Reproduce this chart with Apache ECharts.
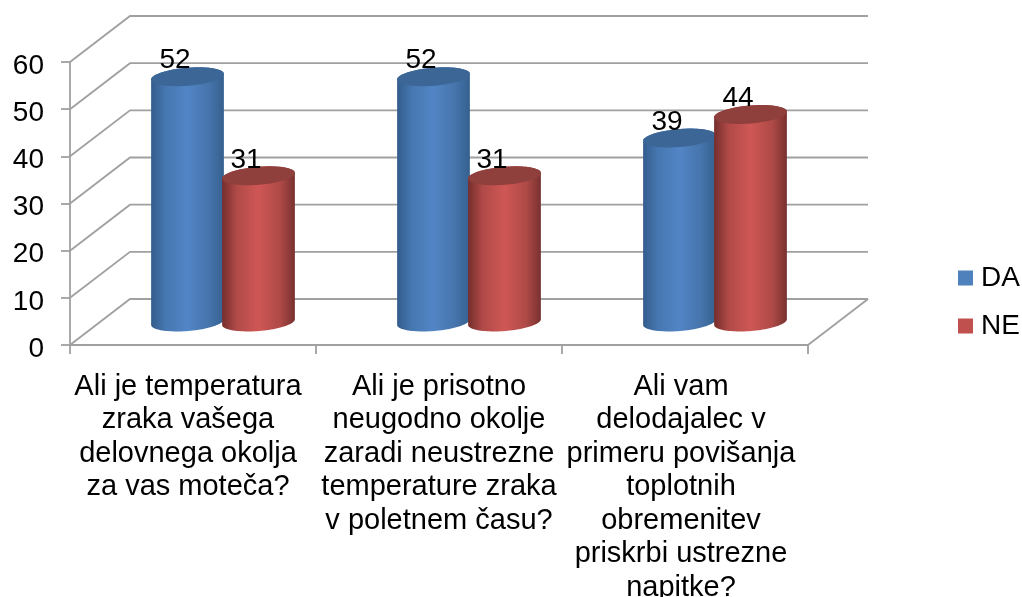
<!DOCTYPE html>
<html>
<head>
<meta charset="utf-8">
<style>html,body{margin:0;padding:0;background:#fff}#c{width:1022px;height:597px}</style>
<script src="https://cdn.jsdelivr.net/npm/echarts@6/dist/echarts.min.js"></script>
</head>
<body>
<div id="c"></div>
<script>
const categories = [
  'Ali je temperatura\nzraka vašega\ndelovnega okolja\nza vas moteča?',
  'Ali je prisotno\nneugodno okolje\nzaradi neustrezne\ntemperature zraka\nv poletnem času?',
  'Ali vam\ndelodajalec v\nprimeru povišanja\ntoplotnih\nobremenitev\npriskrbi ustrezne\nnapitke?'
];
const daValues = [52, 52, 39];
const neValues = [31, 31, 44];
const tickValues = [0, 10, 20, 30, 40, 50, 60];

const FONT = '"Liberation Sans", Arial, sans-serif';
const DEPTH_X = 60, DEPTH_Y = 46;
const GRID_COLOR = '#a0a0a0';
const GRID_WIDTH = 1.8;
const FONT_SIZE = 28;
const labelRightPadding = [10, 0, 8];

function ellipse(cx, cy, from, to) {
  const a = 36.5, b = 9, phi = 0.082, n = 48, pts = [];
  for (let i = 0; i <= n; i++) {
    const t = from + (to - from) * i / n;
    pts.push([
      cx + a * Math.cos(t) * Math.cos(phi) + b * Math.sin(t) * Math.sin(phi),
      cy - a * Math.cos(t) * Math.sin(phi) + b * Math.sin(t) * Math.cos(phi)
    ]);
  }
  return pts;
}

function cylinderSeries(name, values, shiftSign, base, stops, capColor) {
  return {
    type: 'custom',
    name: name,
    z: 3,
    silent: true,
    itemStyle: { color: base },
    encode: { x: 0, y: 1 },
    data: values.map((v, i) => [i, v]),
    renderItem: function (params, api) {
      const band = api.size([1, 0])[0];
      const top = api.coord([api.value(0), api.value(1)]);
      const bot = api.coord([api.value(0), 0]);
      const cx = top[0] + DEPTH_X / 2 + shiftSign * band * 0.1443;
      const yTop = top[1] - DEPTH_Y / 2;
      const yBot = bot[1] - DEPTH_Y / 2;
      const body = ellipse(cx, yBot, 0, Math.PI).concat(ellipse(cx, yTop, Math.PI, 2 * Math.PI));
      return {
        type: 'group',
        children: [
          {
            type: 'polygon',
            shape: { points: body },
            style: {
              fill: {
                type: 'linear', x: 0, y: 0, x2: 1, y2: 0,
                colorStops: [0, 0.2, 0.5, 0.8, 1].map((o, k) => ({ offset: o, color: stops[k] }))
              }
            }
          },
          {
            type: 'polygon',
            shape: { points: ellipse(cx, yTop, 0, 2 * Math.PI) },
            style: { fill: capColor }
          },
          {
            type: 'text',
            style: {
              text: String(api.value(1)),
              x: cx - 12.5,
              y: yTop - 16,
              align: 'center',
              verticalAlign: 'middle',
              fill: '#000',
              font: FONT_SIZE + 'px ' + FONT
            }
          }
        ]
      };
    }
  };
}

const wallSeries = {
  type: 'custom',
  z: 1,
  silent: true,
  encode: { y: 1 },
  data: tickValues.map(v => [0, v]),
  renderItem: function (params, api) {
    const rect = params.coordSys;
    const v = api.value(1);
    const y = api.coord([0, v])[1];
    const x0 = rect.x, x1 = rect.x + rect.width;
    const style = { stroke: GRID_COLOR, lineWidth: GRID_WIDTH, fill: 'none' };
    const children = [{
      type: 'polyline',
      shape: { points: [[x0, y], [x0 + DEPTH_X, y - DEPTH_Y], [x1 + DEPTH_X, y - DEPTH_Y]] },
      style: style
    }];
    if (v === 0) {
      children.push({
        type: 'polyline',
        shape: { points: [[x1, y], [x1 + DEPTH_X, y - DEPTH_Y]] },
        style: style
      });
    }
    return { type: 'group', children: children };
  }
};

const chart = echarts.init(document.getElementById('c'), null, { renderer: 'canvas' });
chart.setOption({
  animation: false,
  backgroundColor: '#fff',
  grid: { left: 70, right: 214, top: 62, bottom: 252, containLabel: false, outerBoundsMode: 'none' },
  legend: {
    data: ['DA', 'NE'],
    orient: 'vertical',
    left: 953,
    top: 259,
    itemWidth: 15,
    itemHeight: 15,
    itemGap: 20,
    selectedMode: false,
    icon: 'rect',
    textStyle: { fontFamily: FONT, fontSize: FONT_SIZE, color: '#000', padding: [0, 0, 0, 3] }
  },
  xAxis: {
    type: 'category',
    data: categories.map((c, i) => ({
      value: c,
      textStyle: { padding: [0, labelRightPadding[i], 0, 0] }
    })),
    axisLine: { lineStyle: { color: GRID_COLOR, width: GRID_WIDTH } },
    axisTick: { show: true, length: 9, lineStyle: { color: GRID_COLOR, width: GRID_WIDTH } },
    axisLabel: {
      interval: 0,
      margin: 25,
      fontFamily: FONT,
      fontSize: 29,
      lineHeight: 33.5,
      color: '#000',
      align: 'center',
      hideOverlap: false
    },
    splitLine: { show: false }
  },
  yAxis: {
    type: 'value',
    min: 0,
    max: 60,
    interval: 10,
    axisLine: { show: true, lineStyle: { color: GRID_COLOR, width: GRID_WIDTH } },
    axisTick: { show: true, length: 9, lineStyle: { color: GRID_COLOR, width: GRID_WIDTH } },
    axisLabel: { margin: 26, fontFamily: FONT, fontSize: FONT_SIZE, color: '#000', verticalAlign: 'top', lineHeight: 8 },
    splitLine: { show: false }
  },
  series: [
    wallSeries,
    cylinderSeries('DA', daValues, -1, '#4f81bd', ['#335c8c', '#4677b0', '#5285c6', '#4674ab', '#35608f'], '#3c6696'),
    cylinderSeries('NE', neValues, 1, '#c0504d', ['#752e2c', '#b04a48', '#cf5755', '#ae4a47', '#78312f'], '#8f3f3c')
  ]
});
</script>
</body>
</html>
